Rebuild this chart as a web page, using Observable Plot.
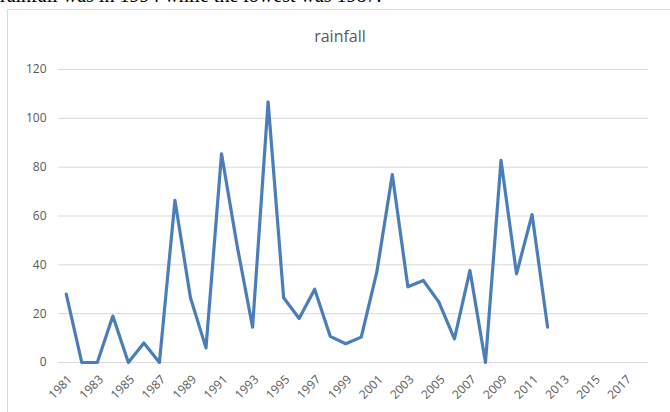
<!DOCTYPE html>
<html>
<head>
<meta charset="utf-8">
<script src="https://cdn.jsdelivr.net/npm/d3@7"></script>
<script src="https://cdn.jsdelivr.net/npm/@observablehq/plot@0.6"></script>
<style>
  html, body { margin: 0; padding: 0; background: #fff; }
  #wrap { position: relative; width: 670px; height: 412px; overflow: hidden; }
  #cut { position: absolute; left: 0; top: 5px; font-family: "Liberation Serif", serif; font-size: 20px; line-height: 20px; color: #000; white-space: nowrap; transform: translateY(-100%); }
  #frame { position: absolute; left: 7px; top: 9px; width: 670px; height: 420px; border: 1px solid #d9d9d9; box-sizing: border-box; }
  #title { position: absolute; left: 0; width: 680px; top: 25px; text-align: center; font-family: "Open Sans", sans-serif; font-size: 16px; color: #595959; }
  #chart { position: absolute; left: 0; top: 0; }
</style>
</head>
<body>
<div id="wrap">
  <div id="cut">rainfall was in 1994 while the lowest was 1987.</div>
  <div id="frame"></div>
  <div id="title">rainfall</div>
  <div id="chart"></div>
</div>
<script>
const years = [1981,1982,1983,1984,1985,1986,1987,1988,1989,1990,1991,1992,1993,1994,1995,1996,1997,1998,1999,2000,2001,2002,2003,2004,2005,2006,2007,2008,2009,2010,2011,2012];
const rainfall = [28,0,0,19,0,8,0,66.4,26.5,6,85.5,48,14.5,106.7,26.5,18,30,10.7,7.7,10.4,37,77,31,33.6,24.7,9.7,37.7,0,82.8,36.3,60.6,14.5];
const xTicks = [1981,1983,1985,1987,1989,1991,1993,1995,1997,1999,2001,2003,2005,2007,2009,2011,2013,2015,2017];
const yTicks = [0,20,40,60,80,100,120];

const data = years.map((y, i) => ({year: y, value: rainfall[i]}));

const chart = Plot.plot({
  width: 670,
  height: 412,
  marginLeft: 58,
  marginRight: 22,
  marginTop: 69,
  marginBottom: 50,
  style: { fontFamily: "Open Sans, sans-serif", fontSize: "12px", color: "#595959", background: "transparent" },
  x: { domain: [1980.5, 2018.5], label: null, axis: null },
  y: { domain: [0, 120], label: null },
  marks: [
    Plot.ruleY(yTicks, { stroke: "#d9d9d9", strokeWidth: 1 }),
    Plot.axisY({ ticks: yTicks, tickSize: 0, tickPadding: 12, label: null, fill: "#595959" }),
    Plot.text(xTicks, { x: d => d, y: () => 0, text: d => String(d), rotate: -45, textAnchor: "end", lineAnchor: "middle", dx: 4, dy: 15, fill: "#595959", fontSize: 12 }),
    Plot.line(data, { x: "year", y: "value", stroke: "#4a7ebb", strokeWidth: 3.2, strokeLinejoin: "round", strokeLinecap: "round" })
  ]
});
document.getElementById("chart").appendChild(chart);
</script>
</body>
</html>
